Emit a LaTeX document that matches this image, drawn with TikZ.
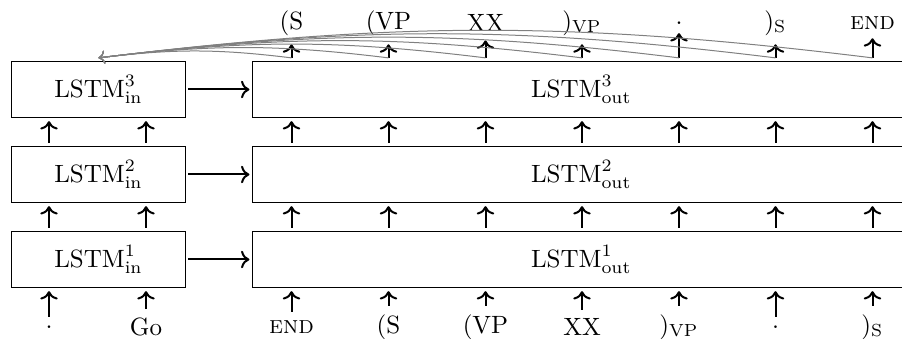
\documentclass[tikz,border=0pt]{standalone}
\usepackage{amsmath}
\usetikzlibrary{arrows.meta}

\begin{document}
\begin{tikzpicture}[x=0.4pt, y=-0.4pt, >=To,
    lstm/.style={draw, minimum height=22.7pt, outer sep=1.3pt},
    flow/.style={->, thick},
    feedback/.style={->, gray}]
    \useasboundingbox (0,0) rectangle (902,339);

    % Stacked LSTM layers
    \foreach \l/\y in {1/259.5, 2/174.5, 3/89.5} {
        \node[lstm, minimum width=69.2pt] (in\l) at (98.5,\y) {$\text{LSTM}^{\l}_{\text{in}}$};
        \node[lstm, minimum width=262.9pt] (out\l) at (581.3,\y) {$\text{LSTM}^{\l}_{\text{out}}$};
        \draw[flow] (in\l) -- (out\l);
    }

    % Input tokens (bottom) and output tokens (top)
    \foreach \i/\x/\w in {1/49/{.}, 2/146/{Go}, 3/291.5/{\textsc{end}}, 4/388.5/{(S},
                          5/485.5/{(VP}, 6/582/{XX}, 7/679/{)$_{\text{VP}}$},
                          8/775.5/{.}, 9/872.5/{)$_{\text{S}}$}}
        \node (b\i) at (\x,327) {\w};
    \foreach \i/\w in {3/{(S}, 4/{(VP}, 5/{XX}, 6/{)$_{\text{VP}}$}, 7/{.},
                       8/{)$_{\text{S}}$}, 9/{\textsc{end}}}
        \node (t\i) at (b\i |- 0,23) {\w};

    % Vertical connections
    \foreach \i in {1,2} {
        \draw[flow] (b\i) -- (b\i |- in1.south);
        \draw[flow] (b\i |- in1.north) -- (b\i |- in2.south);
        \draw[flow] (b\i |- in2.north) -- (b\i |- in3.south);
    }
    \foreach \i in {3,...,9} {
        \draw[flow] (b\i) -- (b\i |- out1.south);
        \draw[flow] (b\i |- out1.north) -- (b\i |- out2.south);
        \draw[flow] (b\i |- out2.north) -- (b\i |- out3.south);
        \draw[flow] (t\i |- out3.north) -- (t\i);
    }

    % Outputs fed back to the input encoder
    \foreach \i in {3,...,9}
        \draw[feedback] (t\i |- out3.north) to[bend right=7] (in3.north);
\end{tikzpicture}
\end{document}
